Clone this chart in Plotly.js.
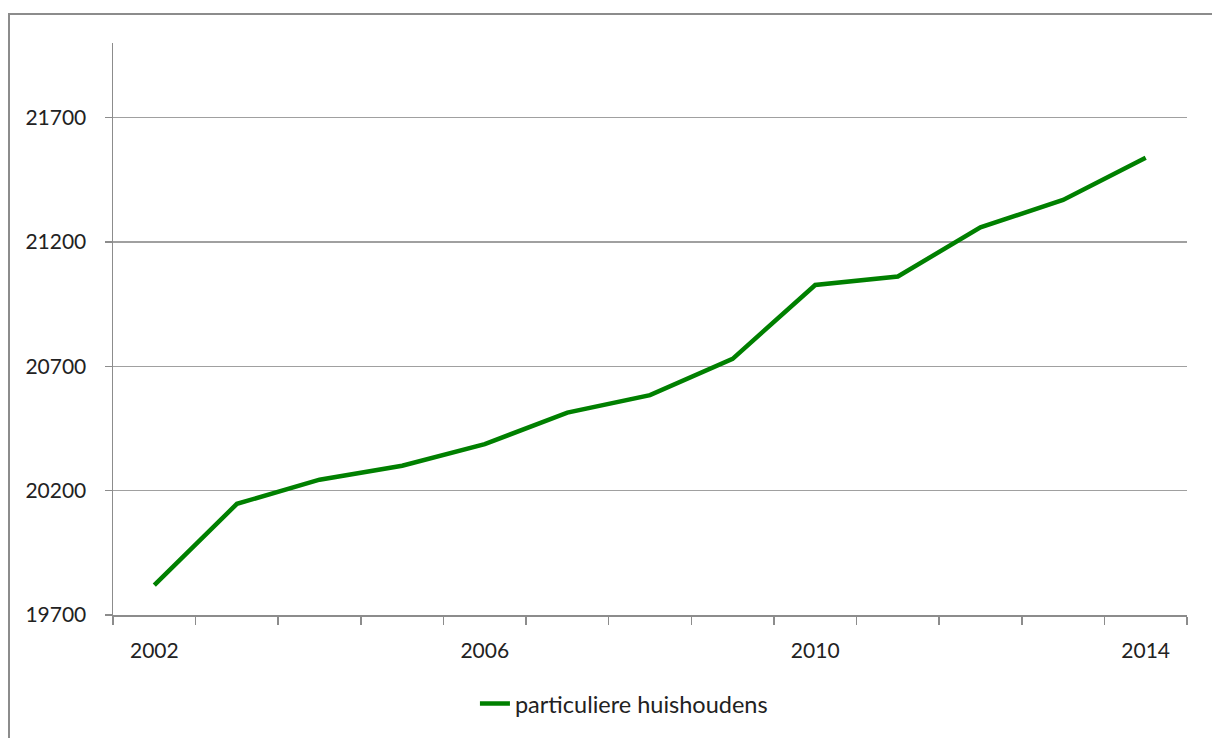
<!DOCTYPE html>
<html>
<head>
<meta charset="utf-8">
<script src="https://cdn.plot.ly/plotly-3.0.1.min.js"></script>
<style>
  html, body { margin: 0; padding: 0; background: #ffffff; overflow: hidden; }
  #frame { position: absolute; left: 8px; top: 13px; width: 1400px; height: 900px;
           border-left: 2px solid #8c8c8c; border-top: 2px solid #8c8c8c; }
  #chart { position: absolute; left: 0; top: 0; width: 1212px; height: 738px; }
</style>
</head>
<body>
<div id="frame"></div>
<div id="chart"></div>
<script>
const years = [2002, 2003, 2004, 2005, 2006, 2007, 2008, 2009, 2010, 2011, 2012, 2013, 2014];
const households = [19820, 20147, 20244, 20300, 20387, 20514, 20584, 20730, 21027, 21061, 21259, 21369, 21539];
const xTickLabels = [2002, 2006, 2010, 2014];
const yTickValues = [19700, 20200, 20700, 21200, 21700];
const seriesName = 'particuliere huishoudens';

const fontFamily = 'Lato, "Open Sans", sans-serif';

const trace = {
  x: years,
  y: households,
  type: 'scatter',
  mode: 'lines',
  name: seriesName,
  line: { color: '#008000', width: 4.5 },
  showlegend: true
};

const layout = {
  width: 1212,
  height: 738,
  margin: { l: 113, r: 25, t: 43, b: 121 },
  paper_bgcolor: 'rgba(0,0,0,0)',
  plot_bgcolor: 'rgba(0,0,0,0)',
  font: { family: fontFamily, size: 21, color: '#222222' },
  showlegend: true,
  xaxis: {
    range: [2001.5, 2014.5],
    tickmode: 'array',
    tickvals: xTickLabels,
    ticktext: xTickLabels.map(String),
    ticks: '',
    showgrid: false,
    zeroline: false,
    showline: true,
    linecolor: '#8c8c8c',
    linewidth: 1.5,
    ticklabelstandoff: 16,
    minor: { ticks: 'outside', tick0: 2001.5, dtick: 1, ticklen: 8, tickcolor: '#8c8c8c', tickwidth: 1.5, showgrid: false },
    tickfont: { family: fontFamily, size: 21, color: '#222222' }
  },
  yaxis: {
    range: [19700, 22000],
    tickmode: 'array',
    tickvals: yTickValues,
    ticktext: yTickValues.map(String),
    ticks: 'outside',
    ticklen: 7,
    tickcolor: '#8c8c8c',
    tickwidth: 1.5,
    showgrid: true,
    gridcolor: '#a0a0a0',
    gridwidth: 1.2,
    zeroline: false,
    showline: true,
    linecolor: '#8c8c8c',
    linewidth: 1.5,
    ticklabelstandoff: 14,
    tickfont: { family: fontFamily, size: 21, color: '#222222' }
  },
  legend: {
    orientation: 'h',
    x: 0.337,
    xanchor: 'left',
    y: -0.155,
    yanchor: 'middle',
    bgcolor: 'rgba(0,0,0,0)',
    font: { family: fontFamily, size: 23.5, color: '#222222' }
  }
};

Plotly.newPlot('chart', [trace], layout, { displayModeBar: false, staticPlot: true });
</script>
</body>
</html>
